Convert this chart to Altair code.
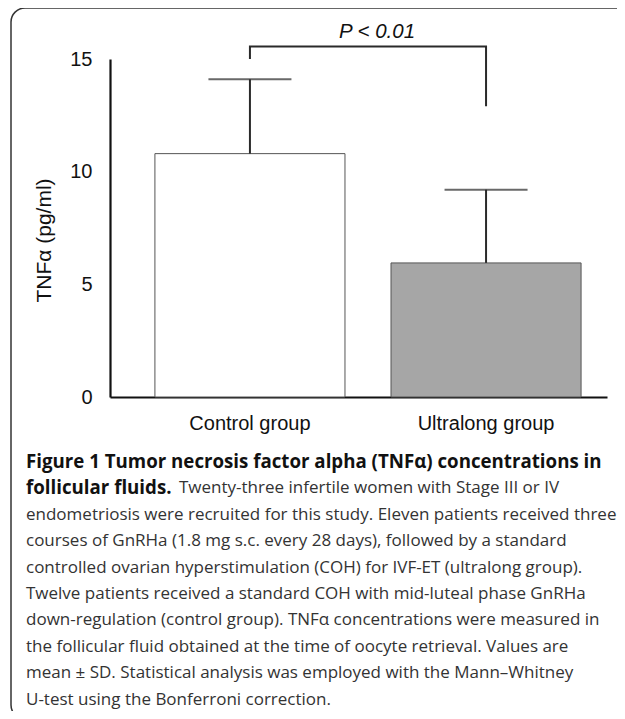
import altair as alt
import pandas as pd
import math

# ---- data ----
groups = ["Control group", "Ultralong group"]
means = [10.8, 5.95]
sds = [3.3, 3.25]
y_ticks = [0, 5, 10, 15]

# significance bracket (in data units)
bracket_groups = ["Control group", "Control group", "Ultralong group", "Ultralong group"]
bracket_values = [15.0, 15.55, 15.55, 12.9]
p_label = "P < 0.01"

caption_bold_1 = "Figure 1 Tumor necrosis factor alpha (TNFα) concentrations in"
caption_bold_2 = "follicular fluids."
caption_rest_2 = "Twenty-three infertile women with Stage III or IV"
caption_lines = [
    "endometriosis were recruited for this study. Eleven patients received three",
    "courses of GnRHa (1.8 mg s.c. every 28 days), followed by a standard",
    "controlled ovarian hyperstimulation (COH) for IVF-ET (ultralong group).",
    "Twelve patients received a standard COH with mid-luteal phase GnRHa",
    "down-regulation (control group). TNFα concentrations were measured in",
    "the follicular fluid obtained at the time of oocyte retrieval. Values are",
    "mean ± SD. Statistical analysis was employed with the Mann–Whitney",
    "U-test using the Bonferroni correction.",
]

df = pd.DataFrame({"group": groups, "mean": means, "sd": sds})
df["hi"] = df["mean"] + df["sd"]
bdf = pd.DataFrame({"group": bracket_groups, "v": bracket_values, "o": list(range(len(bracket_values)))})

W, H = 497, 338
AXIS_FONT = "Liberation Sans"
CAP_FONT = "Open Sans"
CAP_SIZE = 17.0
BOLD_SIZE = 18.7

xscale = alt.Scale(domain=groups, paddingInner=0.195, paddingOuter=0.15, align=0.634)
yscale = alt.Scale(domain=[0, 15], nice=False, zero=True)

xenc = alt.X("group:N", scale=xscale, sort=groups,
             axis=alt.Axis(title=None, ticks=False, tickSize=0, labelAngle=0,
                           labelFont=AXIS_FONT, labelFontSize=20, labelColor="#111",
                           labelPadding=16, domainColor="#111", domainWidth=2.2))

bars = alt.Chart(df).mark_bar(stroke="#555", strokeWidth=1).encode(
    x=xenc,
    y=alt.Y("mean:Q", scale=yscale,
            axis=alt.Axis(values=y_ticks, grid=False, ticks=False, tickSize=0,
                          labelFont=AXIS_FONT, labelFontSize=20, labelColor="#111",
                          labelPadding=18, domainColor="#111", domainWidth=2.2,
                          title="TNFα (pg/ml)", titleFont=AXIS_FONT, titleFontSize=21,
                          titleFontWeight="normal", titleColor="#111",
                          titleX=-66, titleY=181, titleAngle=-90,
                          titleAlign="center", titleBaseline="middle")),
    fill=alt.Fill("group:N", scale=alt.Scale(domain=groups, range=["#ffffff", "#a6a6a6"]),
                  legend=None),
)

stems = alt.Chart(df).mark_rule(color="#2a2a2a", strokeWidth=2).encode(
    x=alt.X("group:N", scale=xscale, sort=groups),
    y=alt.Y("mean:Q", scale=yscale), y2="hi:Q")

caps = alt.Chart(df).mark_tick(color="#2a2a2a", thickness=2, size=83, orient="horizontal").encode(
    x=alt.X("group:N", scale=xscale, sort=groups), y=alt.Y("hi:Q", scale=yscale))

bracket = alt.Chart(bdf).mark_line(color="#2a2a2a", strokeWidth=2, interpolate="linear").encode(
    x=alt.X("group:N", scale=xscale, sort=groups), y=alt.Y("v:Q", scale=yscale), order="o:Q")

one = pd.DataFrame({"a": [0]})
ptext = alt.Chart(one).mark_text(text=p_label, font=AXIS_FONT, fontSize=20.5, fontStyle="italic",
                                 color="#111", align="center", baseline="middle").encode(
    x=alt.value(267), y=alt.value(-27))

# rounded frame: top edge, left edge and two left corners
BX, BY, BB, R = -99, -51, 646, 14
BCOL, BW = "#333", 1.5
frame = [
    alt.Chart(one).mark_rule(color=BCOL, strokeWidth=BW).encode(
        x=alt.value(BX + R), x2=alt.value(620), y=alt.value(BY)),
    alt.Chart(one).mark_rule(color=BCOL, strokeWidth=BW).encode(
        x=alt.value(BX), y=alt.value(BY + R), y2=alt.value(BB)),
    alt.Chart(one).mark_arc(color=BCOL, radius=R + BW / 2, radius2=R - BW / 2,
                            theta=1.5 * math.pi, theta2=2 * math.pi).encode(
        x=alt.value(BX + R), y=alt.value(BY + R)),
    alt.Chart(one).mark_arc(color=BCOL, radius=R + BW / 2, radius2=R - BW / 2,
                            theta=math.pi, theta2=1.5 * math.pi).encode(
        x=alt.value(BX + R), y=alt.value(BB)),
]

CAP_X = -84
LINE0 = 403
LSTEP = 26.4

cap_layers = [
    alt.Chart(one).mark_text(text=caption_bold_1, font=CAP_FONT, fontSize=BOLD_SIZE, fontWeight="bold",
                             color="#111", align="left", baseline="middle").encode(
        x=alt.value(CAP_X), y=alt.value(LINE0)),
    alt.Chart(one).mark_text(text=caption_bold_2, font=CAP_FONT, fontSize=BOLD_SIZE, fontWeight="bold",
                             color="#111", align="left", baseline="middle").encode(
        x=alt.value(CAP_X), y=alt.value(LINE0 + LSTEP)),
    alt.Chart(one).mark_text(text=caption_rest_2, font=CAP_FONT, fontSize=CAP_SIZE,
                             color="#333", align="left", baseline="middle").encode(
        x=alt.value(CAP_X + 153), y=alt.value(LINE0 + LSTEP)),
]
for i, line in enumerate(caption_lines):
    cap_layers.append(
        alt.Chart(one).mark_text(text=line, font=CAP_FONT, fontSize=CAP_SIZE,
                                 color="#333", align="left", baseline="middle").encode(
            x=alt.value(CAP_X), y=alt.value(LINE0 + LSTEP * (i + 2))))

chart = alt.layer(bars, stems, caps, bracket, ptext, *frame, *cap_layers).properties(
    width=W, height=H, autosize="none", background="white",
    padding={"left": 102, "top": 51, "right": 10, "bottom": 314},
).configure_view(strokeWidth=0, stroke=None)

chart.save("out.html", embed_options={"renderer": "svg", "actions": False})
